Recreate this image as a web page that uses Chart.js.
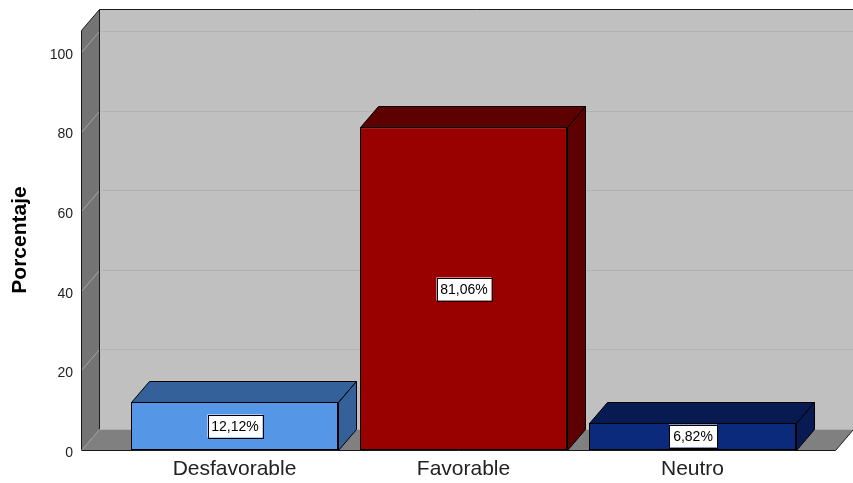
<!DOCTYPE html>
<html lang="es">
<head>
<meta charset="utf-8">
<title>Porcentaje</title>
<script src="https://cdn.jsdelivr.net/npm/chart.js@4/dist/chart.umd.min.js"></script>
<style>
  html, body { margin: 0; padding: 0; background: #fff; }
  #grafico { display: block; }
</style>
</head>
<body>
<canvas id="grafico" width="853" height="483"></canvas>
<script>
const categorias = ['Desfavorable', 'Favorable', 'Neutro'];
const porcentajes = [12.12, 81.06, 6.82];
const marcasY = [0, 20, 40, 60, 80, 100];

// colores: cara frontal y caras superior/lateral
const colorFrente = ['#5596e6', '#990000', '#0b2a7c'];
const colorSombra = ['#35619a', '#5c0000', '#071b52'];

const DX = 18, DY = -21;     // profundidad 3D
const TOPE = 105.5;          // altura de las paredes (máximo del eje)

const FUENTE = "'Liberation Sans', Arial, sans-serif";

function fmt(v) {
  return v.toFixed(2).replace('.', ',') + '%';
}

function poly(ctx, pts, fill, stroke) {
  ctx.beginPath();
  ctx.moveTo(pts[0][0], pts[0][1]);
  for (let i = 1; i < pts.length; i++) ctx.lineTo(pts[i][0], pts[i][1]);
  ctx.closePath();
  if (fill) { ctx.fillStyle = fill; ctx.fill(); }
  if (stroke) { ctx.strokeStyle = stroke; ctx.lineWidth = 1; ctx.stroke(); }
}

function line(ctx, x1, y1, x2, y2, color) {
  ctx.beginPath();
  ctx.moveTo(x1, y1);
  ctx.lineTo(x2, y2);
  ctx.strokeStyle = color;
  ctx.lineWidth = 1;
  ctx.stroke();
}

// paredes, suelo y cuadrícula
const caja3d = {
  id: 'caja3d',
  beforeDatasetsDraw(chart) {
    const { ctx, chartArea: a, scales: { y }, width } = chart;
    const xl = Math.round(a.left - 39) + 0.5;
    const xr = Math.round(a.right + 28) + 0.5;
    const y0 = Math.round(y.getPixelForValue(0)) + 0.5;
    const yt = Math.round(y.getPixelForValue(TOPE)) + 0.5;
    ctx.save();
    // pared del fondo
    ctx.fillStyle = '#c0c0c0';
    ctx.fillRect(xl + DX, yt + DY, width - xl - DX, y0 - yt);
    // pared izquierda
    poly(ctx, [[xl, yt], [xl + DX, yt + DY], [xl + DX, y0 + DY], [xl, y0]], '#747474');
    // suelo
    poly(ctx, [[xl, y0], [xl + DX, y0 + DY], [xr + DX, y0 + DY], [xr, y0]], '#808080');
    // cuadrícula
    marcasY.forEach(v => {
      if (v === 0) return;
      const py = Math.round(y.getPixelForValue(v)) + 0.5;
      line(ctx, xl + DX, py + DY, width, py + DY, '#b3b3b3');
      line(ctx, xl, py, xl + DX, py + DY, '#a4a4a4');
    });
    // bordes
    ctx.beginPath();
    ctx.moveTo(xl, y0);
    ctx.lineTo(xl, yt);
    ctx.lineTo(xl + DX, yt + DY);
    ctx.lineTo(width, yt + DY);
    ctx.moveTo(xl + DX, yt + DY);
    ctx.lineTo(xl + DX, y0 + DY);
    ctx.moveTo(xl, y0);
    ctx.lineTo(xr, y0);
    ctx.lineTo(xr + DX, y0 + DY);
    ctx.strokeStyle = '#1a1a1a';
    ctx.lineWidth = 1;
    ctx.stroke();
    line(ctx, xl + DX, y0 + DY, xl, y0, '#9a9a9a');
    ctx.restore();
  },
  afterDatasetsDraw(chart) {
    const { ctx } = chart;
    const meta = chart.getDatasetMeta(0);
    ctx.save();
    meta.data.forEach((bar, i) => {
      const p = bar.getProps(['x', 'y', 'base', 'width'], true);
      const l = Math.round(p.x - p.width / 2) + 0.5;
      const r = Math.round(p.x + p.width / 2) + 0.5;
      const t = Math.round(p.y) + 0.5;
      const b = Math.round(p.base) + 0.5;
      // cara superior y lateral
      poly(ctx, [[l, t], [l + DX, t + DY], [r + DX, t + DY], [r, t]], colorSombra[i], '#000');
      poly(ctx, [[r, t], [r + DX, t + DY], [r + DX, b + DY], [r, b]], colorSombra[i], '#000');
      // etiqueta con el valor
      const txt = fmt(porcentajes[i]);
      ctx.font = '14px ' + FUENTE;
      const w = Math.round(ctx.measureText(txt).width) + 8;
      const h = 23;
      const cx = Math.round(p.x);
      const cy = Math.round((p.y + p.base) / 2);
      ctx.fillStyle = '#fff';
      ctx.fillRect(cx - w / 2, cy - h / 2, w, h);
      ctx.strokeStyle = '#000';
      ctx.lineWidth = 1;
      ctx.strokeRect(Math.round(cx - w / 2) + 0.5, Math.round(cy - h / 2) + 0.5, w, h);
      ctx.fillStyle = '#000';
      ctx.textAlign = 'center';
      ctx.textBaseline = 'middle';
      ctx.fillText(txt, cx, cy + 1);
    });
    ctx.restore();
  }
};

new Chart(document.getElementById('grafico'), {
  type: 'bar',
  data: {
    labels: categorias,
    datasets: [{
      data: porcentajes,
      backgroundColor: colorFrente,
      borderColor: '#000',
      borderWidth: 1,
      borderSkipped: false,
      categoryPercentage: 1,
      barPercentage: 0.904,
    }],
  },
  options: {
    responsive: false,
    animation: false,
    layout: { padding: { top: 30, right: 46, left: 0, bottom: 0 } },
    plugins: {
      legend: { display: false },
      tooltip: { enabled: false },
    },
    scales: {
      x: {
        grid: { display: false, drawTicks: false },
        border: { display: false },
        ticks: { color: '#222', padding: 7, font: { family: FUENTE, size: 21 } },
        afterFit: (s) => { s.height = 33; },
      },
      y: {
        min: 0,
        max: TOPE,
        grid: { display: false, drawTicks: false },
        border: { display: false },
        ticks: { color: '#222', padding: 47, labelOffset: 3, font: { family: FUENTE, size: 14 } },
        afterBuildTicks: (s) => { s.ticks = marcasY.map(v => ({ value: v })); },
        title: {
          display: true,
          text: 'Porcentaje',
          color: '#000',
          padding: { top: 8, bottom: 0 },
          font: { family: FUENTE, size: 21, weight: 'bold' },
        },
        afterFit: (s) => {
          s.width = 120;
          s.paddingTop = 0;
          s.paddingBottom = 0;
        },
      },
    },
  },
  plugins: [caja3d],
});
</script>
</body>
</html>
